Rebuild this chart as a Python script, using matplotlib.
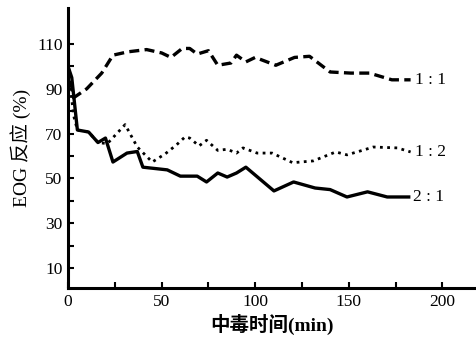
import matplotlib
matplotlib.use("Agg")
import matplotlib.pyplot as plt

# 1:1 (dashed)
t_11 = [0, 3, 10, 18, 24, 32, 42, 50, 55, 61, 65, 69, 75, 80, 87, 90, 95, 100,
        111, 121, 129, 140, 151, 161, 173, 183]
eog_11 = [100, 86, 90, 97, 105, 106.5, 107.5, 106, 104, 108, 108, 105.5, 107, 100.5,
          101.5, 105, 102, 104, 100.5, 104, 104.5, 97.5, 97, 97, 94, 94]

# 1:2 (dotted)
t_12 = [0, 3, 5, 11, 16, 21, 30.5, 37, 45, 52, 58, 62.5, 65, 70, 74, 80, 85, 90,
        93.5, 101, 109, 120, 131, 143, 149, 158, 163, 176, 183]
eog_12 = [100, 78, 71.6, 70.7, 66, 65.5, 74, 64, 57.3, 61, 65, 68.5, 68, 64.5, 67,
          62.5, 63, 61.3, 63.6, 61.3, 61.3, 57, 57.8, 61.8, 60.5, 62.7, 64, 63.6, 61.8]

# 2:1 (solid)
t_21 = [0, 2, 5, 11, 16, 20, 24, 31.5, 37, 40, 53, 60, 69, 74, 80, 85, 90, 95,
        110, 120.5, 132, 140, 149, 160, 170.5, 182]
eog_21 = [100, 95, 71.6, 70.7, 66, 68, 57.3, 61.3, 62, 55, 53.8, 51, 51, 48.4, 52.4,
          50.6, 52.4, 55, 44.4, 48.4, 45.7, 45, 41.7, 44, 41.7, 41.7]

ratio_labels = ["1 : 1", "1 : 2", "2 : 1"]

serif = ["Liberation Serif", "Noto Sans CJK SC"]

fig = plt.figure(figsize=(4.77, 3.39), dpi=100)
ax = fig.add_axes([0.1426, 0.150, 0.854, 0.826])

ax.plot(t_11, eog_11, color="black", lw=2.4, dashes=(3.0, 1.6))
ax.plot(t_12, eog_12, color="black", lw=2.0, dashes=(1.0, 1.6))
ax.plot(t_21, eog_21, color="black", lw=2.4)

# ratio labels at the end of each curve
for t, v, lab in [(t_11, eog_11, ratio_labels[0]),
                  (t_12, eog_12, ratio_labels[1]),
                  (t_21, eog_21, ratio_labels[2])]:
    ax.text(t[-1] + 2.5, v[-1], lab, ha="left", va="center",
            fontsize=12.5, family=serif)

ax.set_xlim(0, 217.6)
ax.set_ylim(1, 126)

ax.set_xticks(range(0, 201, 25))
ax.set_xticklabels(["0" if i == 0 else (str(i) if i % 50 == 0 else "")
                    for i in range(0, 201, 25)])
ax.set_yticks(range(10, 111, 10))
ax.set_yticklabels([str(i) if i % 20 == 10 else "" for i in range(10, 111, 10)])

ax.tick_params(direction="in", length=4, width=1.5, labelsize=12.5, pad=4)
for lab in ax.get_xticklabels() + ax.get_yticklabels():
    lab.set_family(serif)

for s in ["top", "right"]:
    ax.spines[s].set_visible(False)
for s in ["left", "bottom"]:
    ax.spines[s].set_linewidth(2.2)

ax.set_xlabel("中毒时间(min)", fontsize=14, family=serif, fontweight="bold", labelpad=3)
ax.set_ylabel("EOG 反应 (%)", fontsize=14, family=serif, labelpad=4)

fig.savefig("out.png", dpi=100)
